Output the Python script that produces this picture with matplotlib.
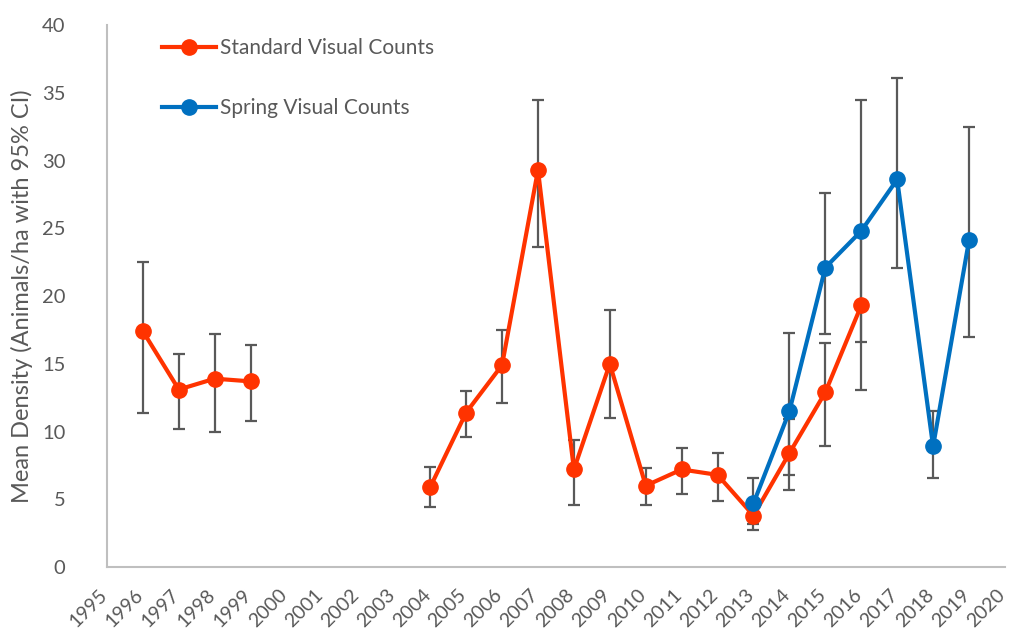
import numpy as np
import matplotlib.pyplot as plt
from matplotlib.transforms import ScaledTranslation

plt.rcParams['font.family'] = ['Lato', 'DejaVu Sans']

# ---------------------- Data ----------------------
years = list(range(1995, 2021))

std_years = [1996, 1997, 1998, 1999, 2004, 2005, 2006, 2007, 2008, 2009,
             2010, 2011, 2012, 2013, 2014, 2015, 2016]
std_mean = [17.4, 13.1, 13.9, 13.7, 5.9, 11.4, 14.9, 29.3, 7.2, 15.0,
            6.0, 7.2, 6.8, 3.8, 8.4, 12.9, 19.3]
std_low = [11.4, 10.2, 10.0, 10.8, 4.4, 9.6, 12.1, 23.6, 4.6, 11.0,
           4.6, 5.4, 4.9, 2.7, 5.7, 8.9, 13.1]
std_high = [22.5, 15.7, 17.2, 16.4, 7.4, 13.0, 17.5, 34.5, 9.4, 19.0,
            7.3, 8.8, 8.4, 4.6, 10.9, 16.5, 25.0]

spr_years = [2013, 2014, 2015, 2016, 2017, 2018, 2019]
spr_mean = [4.7, 11.5, 22.1, 24.8, 28.6, 8.9, 24.1]
spr_low = [3.2, 6.8, 17.2, 16.6, 22.1, 6.6, 17.0]
spr_high = [6.6, 17.3, 27.6, 34.5, 36.1, 11.5, 32.5]

labels = ["Standard Visual Counts", "Spring Visual Counts"]


def on_axis(yrs, vals):
    # put values onto the full 1995-2020 axis, NaN where there is no survey
    out = np.full(len(years), np.nan)
    for y, v in zip(yrs, vals):
        out[years.index(y)] = v
    return out


# ---------------------- Plot ----------------------
fig = plt.figure(figsize=(10.12, 6.41), dpi=100)
ax = fig.add_axes([0.1057, 0.1154, 0.8873, 0.8456])

grey = '#595959'
series = [
    (std_years, std_mean, std_low, std_high, '#FF3300'),
    (spr_years, spr_mean, spr_low, spr_high, '#0070C0'),
]

x = np.array(years)
for (yrs, m, lo, hi, col), lab in zip(series, labels):
    mean = on_axis(yrs, m)
    low = on_axis(yrs, lo)
    high = on_axis(yrs, hi)
    ax.errorbar(x, mean, yerr=[mean - low, high - mean], fmt='none',
                ecolor=grey, elinewidth=1.6, capsize=4.5, capthick=1.6,
                zorder=2)
    ax.plot(x, mean, color=col, lw=3, marker='o', markersize=11,
            label=lab, zorder=3)

# Axes formatting
ax.set_xlim(1995, 2020)
ax.set_ylim(0, 40)
ax.set_yticks(range(0, 41, 5))
ax.tick_params(axis='y', labelsize=14.5, colors=grey, length=0, pad=30)
ax.tick_params(axis='x', length=0, pad=14)
ax.set_xticks(years)
ax.set_xticklabels([str(y) for y in years], rotation=45, ha='right',
                   rotation_mode='anchor', fontsize=14, color=grey)
# nudge the slanted year labels left so 2020 stays inside the figure
shift = ScaledTranslation(-6 / 72, 0, fig.dpi_scale_trans)
for lbl in ax.get_xticklabels():
    lbl.set_transform(lbl.get_transform() + shift)
ax.set_ylabel('Mean Density (Animals/ha with 95% CI)', fontsize=17,
              color=grey, labelpad=6)

for side in ['top', 'right']:
    ax.spines[side].set_visible(False)
for side in ['left', 'bottom']:
    ax.spines[side].set_color('#BFBFBF')
    ax.spines[side].set_linewidth(1.5)

leg = ax.legend(loc='upper left', bbox_to_anchor=(0.04, 1.01), frameon=False,
                fontsize=15, labelspacing=1.9, handlelength=2.6,
                handletextpad=0.2)
for t in leg.get_texts():
    t.set_color(grey)

plt.savefig('out.png', dpi=100)
